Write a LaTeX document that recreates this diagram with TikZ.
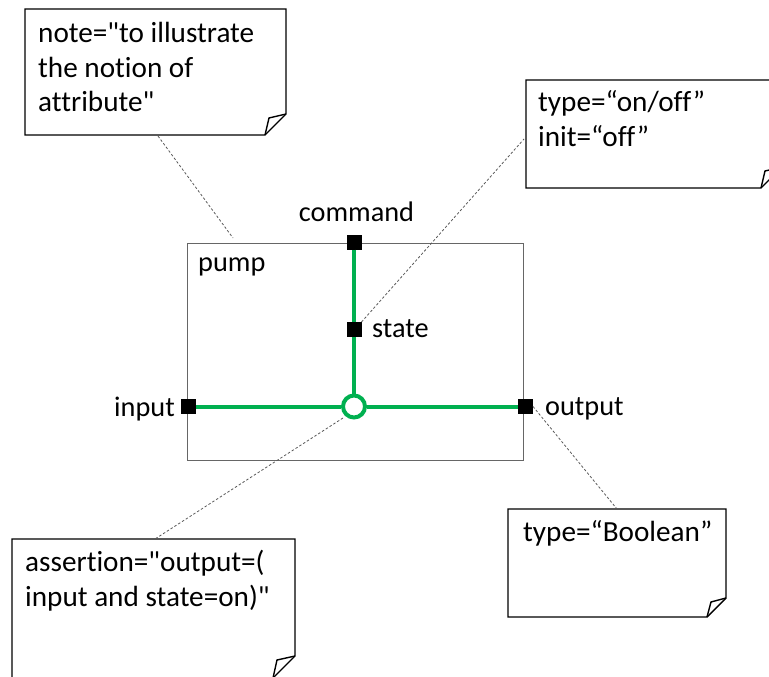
\documentclass[tikz,border=0pt]{standalone}
\usepackage{fontspec}
\setmainfont{Carlito}[Ligatures={TeXOff,NoCommon}]
\definecolor{wiregreen}{HTML}{00B050}
\begin{document}
\begin{tikzpicture}[x=1pt,y=-1pt,
  lbl/.style={inner sep=0pt, font=\fontsize{28.3}{34.5}\selectfont},
  notetxt/.style={inner sep=0pt, anchor=base west, font=\fontsize{29.2}{34.5}\selectfont},
  notebox/.style={draw=black, line width=1.4pt, fill=white, line join=miter},
  foldline/.style={draw=black, line width=1.4pt, line join=miter},
  port/.style={fill=black, minimum size=15pt, inner sep=0pt, outer sep=0pt},
  wire/.style={draw=wiregreen, line width=4pt},
  hubstyle/.style={circle, draw=wiregreen, line width=4pt, fill=white, minimum size=22pt, inner sep=0pt},
  anno/.style={draw=black!65, line width=0.8pt, dash pattern=on 2.5pt off 2pt}]
\useasboundingbox (0,0) rectangle (769,677);
\begin{scope}
\clip (0,0) rectangle (769,677);
% notes
\draw[notebox] (25,9) -- (286,9) -- (286,114) -- (265,135) -- (25,135) -- cycle;
\draw[foldline] (265,135) -- (269,118) -- (286,114);
\draw[notebox] (526,80) -- (782,80) -- (782,167) -- (761,188) -- (526,188) -- cycle;
\draw[foldline] (761,188) -- (765,171) -- (782,167);
\draw[notebox] (12,539) -- (295,539) -- (295,656) -- (273,678) -- (12,678) -- cycle;
\draw[foldline] (273,678) -- (277,660) -- (295,656);
\draw[notebox] (508,509) -- (726,509) -- (726,598) -- (707,617) -- (508,617) -- cycle;
\draw[foldline] (707,617) -- (711,602) -- (726,598);
\end{scope}
% note texts
\node[notetxt] (n1l1) at (38,43) {note="to illustrate};
\node[notetxt] (n1l2) at (38,77.5) {the notion of};
\node[notetxt] (n1l3) at (38,112) {attribute"};
\node[notetxt] (n2l1) at (538,111.7) {type=“on/off”};
\node[notetxt] (n2l2) at (538,146.7) {init=“off”};
\node[notetxt] (n3l1) at (25,571.7) {assertion="output=(};
\node[notetxt] (n3l2) at (25,606) {input and state=on)"};
\node[notetxt] (n4l1) at (523,541.7) {type=“Boolean”};
% pump block
\node[draw=black!60, line width=1pt, minimum width=336pt, minimum height=217pt, inner sep=0pt] (pump) at (355,351.5) {};
\node[lbl, anchor=base west] (pumplbl) at (198,271) {pump};
% ports and hub
\node[port] (cmd) at (354,242) {};
\node[port] (st) at (354,329.5) {};
\node[port] (in) at (188.5,406.5) {};
\node[port] (out) at (525.5,406.5) {};
\node[hubstyle] (hub) at (354,406.5) {};
\draw[wire] (cmd) -- (st);
\draw[wire] (st) -- (hub);
\draw[wire] (in) -- (hub);
\draw[wire] (hub) -- (out);
% port labels
\node[lbl, anchor=base] (cmdlbl) at (356.5,221.7) {command};
\node[lbl, anchor=base west] (stlbl) at (372,337.7) {state};
\node[lbl, anchor=base east] (inlbl) at (175,416.7) {input};
\node[lbl, anchor=base west] (outlbl) at (545,415.7) {output};
% annotation links
\coordinate (n1a) at (158,136);
\coordinate (n1b) at (233,238);
\coordinate (n2a) at (524,139);
\coordinate (n3a) at (155,539);
\coordinate (hubb) at (343,418);
\coordinate (n4a) at (617,509);
\draw[anno] (n1a) -- (n1b);
\draw[anno] (st.north east) -- (n2a);
\draw[anno] (hubb) -- (n3a);
\draw[anno] (out.east) -- (n4a);
\end{tikzpicture}
\end{document}
